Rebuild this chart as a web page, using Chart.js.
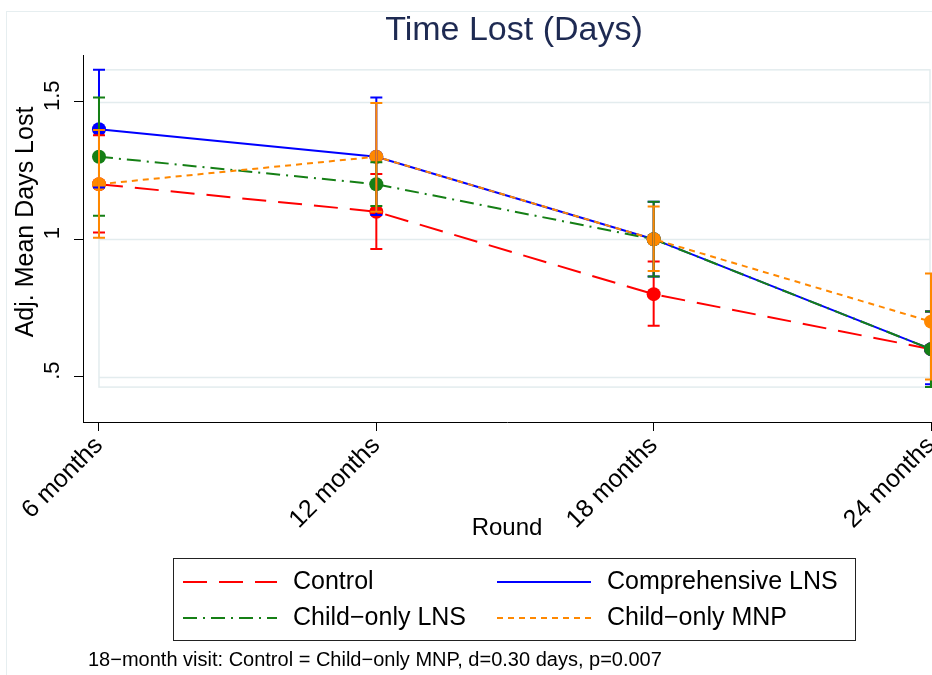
<!DOCTYPE html>
<html>
<head>
<meta charset="utf-8">
<title>Time Lost (Days)</title>
<script src="https://cdn.jsdelivr.net/npm/chart.js@4.4.0/dist/chart.umd.min.js"></script>
<style>
  html, body { margin: 0; padding: 0; background: #fff; }
  #wrap { width: 932px; height: 675px; }
</style>
</head>
<body>
<div id="wrap"><canvas id="timeLostChart" width="932" height="675"></canvas></div>
<script>
// visit rounds (months) and axis labels
const rounds = [6, 12, 18, 24];
const roundLabels = ["6 months", "12 months", "18 months", "24 months"];
const yTicks = [0.5, 1, 1.5];
const yTickLabels = [".5", "1", "1.5"];

// adjusted means with 95% CI, per arm
const controlMean = [1.2, 1.1, 0.8, 0.6];
const controlLo   = [1.024, 0.964, 0.685, 0.462];
const controlHi   = [1.378, 1.237, 0.919, 0.737];

const compLnsMean = [1.4, 1.3, 1.0, 0.6];
const compLnsLo   = [1.188, 1.088, 0.864, 0.472];
const compLnsHi   = [1.616, 1.515, 1.136, 0.737];

const childLnsMean = [1.3, 1.2, 1.0, 0.6];
const childLnsLo   = [1.085, 1.121, 0.864, 0.462];
const childLnsHi   = [1.515, 1.28, 1.136, 0.737];

const childMnpMean = [1.2, 1.3, 1.0, 0.7];
const childMnpLo   = [1.005, 1.10, 0.884, 0.49];
const childMnpHi   = [1.397, 1.495, 1.119, 0.875];

const FONT = "'Liberation Sans', Arial, sans-serif";

const series = [
  { label: "Control",           mean: controlMean,  lo: controlLo,  hi: controlHi,  color: "#ff0000", dash: [24, 12] },
  { label: "Comprehensive LNS", mean: compLnsMean,  lo: compLnsLo,  hi: compLnsHi,  color: "#0000ff", dash: [] },
  { label: "Child\u2212only LNS", mean: childLnsMean, lo: childLnsLo, hi: childLnsHi, color: "#157f15", dash: [14, 6, 2, 6] },
  { label: "Child\u2212only MNP", mean: childMnpMean, lo: childMnpLo, hi: childMnpHi, color: "#ff8800", dash: [6, 5] }
];

const allLo = series.flatMap(s => s.lo);
const allHi = series.flatMap(s => s.hi);

const stataFrame = {
  id: "stataFrame",
  beforeDraw(chart) {
    const { ctx, width, height } = chart;
    ctx.save();
    ctx.fillStyle = "#fff";
    ctx.fillRect(0, 0, width, height);
    ctx.strokeStyle = "#e6eef0";
    ctx.lineWidth = 1;
    ctx.strokeRect(6.5, 11.5, width + 10, height + 10);
    ctx.restore();
  },
  beforeDatasetsDraw(chart) {
    const { ctx, scales: { x, y } } = chart;
    const left = x.getPixelForValue(rounds[0]);
    const right = x.getPixelForValue(rounds[rounds.length - 1]) - 1;
    const top = y.getPixelForValue(Math.max(...allHi));
    const bottom = y.getPixelForValue(Math.min(...allLo));
    ctx.save();
    ctx.strokeStyle = "#e3ecee";
    ctx.lineWidth = 1.5;
    ctx.strokeRect(left, top, right - left, bottom - top);
    yTicks.forEach(v => {
      const py = Math.round(y.getPixelForValue(v)) + 0.5;
      ctx.beginPath();
      ctx.moveTo(left, py);
      ctx.lineTo(right, py);
      ctx.stroke();
    });
    ctx.restore();
  },
  afterDatasetsDraw(chart) {
    // CI caps drawn over the connected lines
    const { ctx, scales: { x, y } } = chart;
    ctx.save();
    ctx.lineWidth = 2;
    ctx.setLineDash([]);
    series.forEach(s => {
      ctx.strokeStyle = s.color;
      rounds.forEach((r, i) => {
        const px = x.getPixelForValue(r);
        const pLo = y.getPixelForValue(s.lo[i]);
        const pHi = y.getPixelForValue(s.hi[i]);
        ctx.beginPath();
        ctx.moveTo(px, pLo); ctx.lineTo(px, pHi);
        ctx.moveTo(px - 6, pLo); ctx.lineTo(px + 6, pLo);
        ctx.moveTo(px - 6, pHi); ctx.lineTo(px + 6, pHi);
        ctx.stroke();
      });
    });
    ctx.restore();
  },
  afterDraw(chart) {
    const { ctx } = chart;
    ctx.save();
    // title
    ctx.fillStyle = "#1e2a52";
    ctx.font = "34px " + FONT;
    ctx.textAlign = "center";
    ctx.textBaseline = "middle";
    ctx.fillText("Time Lost (Days)", 514, 31);

    // y axis title
    ctx.fillStyle = "#000";
    ctx.font = "25px " + FONT;
    ctx.save();
    ctx.translate(26, 222);
    ctx.rotate(-Math.PI / 2);
    ctx.fillText("Adj. Mean Days Lost", 0, 0);
    ctx.restore();

    // legend box
    ctx.strokeStyle = "#222";
    ctx.lineWidth = 1;
    ctx.strokeRect(173.5, 558.5, 682, 82);
    const colX = [183, 497];
    const rowY = [582, 618];
    ctx.font = "25px " + FONT;
    ctx.textAlign = "left";
    series.forEach((s, i) => {
      const cx = colX[i % 2];
      const cy = rowY[Math.floor(i / 2)];
      ctx.strokeStyle = s.color;
      ctx.lineWidth = 2;
      ctx.setLineDash(s.dash);
      ctx.beginPath();
      ctx.moveTo(cx, cy); ctx.lineTo(cx + 94, cy);
      ctx.stroke();
      ctx.setLineDash([]);
      ctx.fillStyle = "#000";
      ctx.fillText(s.label, cx + 110, cy);
    });

    // note
    ctx.font = "20px " + FONT;
    ctx.fillText("18\u2212month visit: Control = Child\u2212only MNP, d=0.30 days, p=0.007", 88, 660);
    ctx.restore();
  }
};

new Chart(document.getElementById("timeLostChart"), {
  type: "line",
  data: {
    datasets: series.map((s, k) => ({
      label: s.label,
      data: rounds.map((r, i) => ({ x: r, y: s.mean[i] })),
      borderColor: s.color,
      backgroundColor: s.color,
      borderWidth: 2,
      borderDash: s.dash,
      pointRadius: 7,
      pointHoverRadius: 7,
      pointBorderWidth: 0,
      pointBackgroundColor: s.color,
      tension: 0,
      clip: false,
      order: series.length - k
    }))
  },
  options: {
    responsive: false,
    animation: false,
    events: [],
    layout: { autoPadding: false, padding: { top: 55, right: 1, bottom: 132.6, left: 0 } },
    plugins: { legend: { display: false }, title: { display: false }, tooltip: { enabled: false } },
    scales: {
      x: {
        type: "linear",
        min: 5.654,
        max: 24,
        afterBuildTicks: scale => { scale.ticks = rounds.map(v => ({ value: v })); },
        afterFit: scale => { scale.height = 120.4; scale.paddingLeft = 0; scale.paddingRight = 0; },
        ticks: {
          color: "#000",
          font: { family: FONT, size: 25 },
          minRotation: 45,
          maxRotation: 45,
          padding: 0,
          callback: v => roundLabels[rounds.indexOf(v)]
        },
        grid: { display: true, drawOnChartArea: false, drawTicks: true, tickLength: 9, color: "#000" },
        border: { display: true, color: "#000", width: 1 },
        title: { display: true, text: "Round", color: "#000", font: { family: FONT, size: 24 }, padding: 0 }
      },
      y: {
        type: "linear",
        min: 0.335,
        max: 1.67,
        afterBuildTicks: scale => { scale.ticks = yTicks.map(v => ({ value: v })); },
        afterFit: scale => { scale.width = 83; scale.paddingTop = 0; scale.paddingBottom = 0; },
        ticks: {
          color: "#000",
          font: { family: FONT, size: 22 },
          minRotation: 90,
          maxRotation: 90,
          crossAlign: "center",
          padding: 6,
          labelOffset: -6,
          callback: v => yTickLabels[yTicks.indexOf(v)]
        },
        grid: { display: true, drawOnChartArea: false, drawTicks: true, tickLength: 9, color: "#000" },
        border: { display: true, color: "#000", width: 1 }
      }
    }
  },
  plugins: [stataFrame]
});
</script>
</body>
</html>
